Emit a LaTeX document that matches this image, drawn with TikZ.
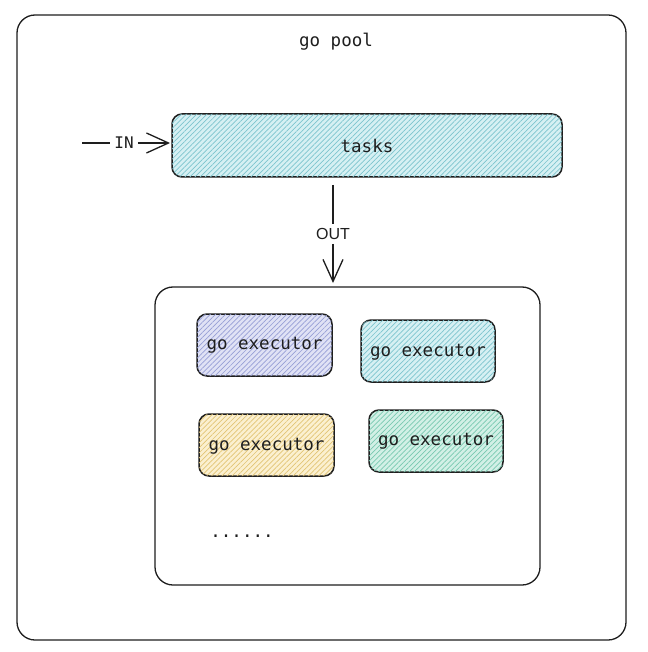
\documentclass[tikz,border=0pt]{standalone}
\usepackage{fontspec}
\setmonofont{DejaVu Sans Mono}
\setsansfont{Liberation Sans}
\usetikzlibrary{patterns.meta,arrows.meta}
\definecolor{ink}{HTML}{1E1E1E}
\definecolor{cyanf}{HTML}{D6F0F3}
\definecolor{cyanh}{HTML}{7CC4CE}
\definecolor{bluef}{HTML}{E0E2F5}
\definecolor{blueh}{HTML}{979FD6}
\definecolor{yelf}{HTML}{FBF0D0}
\definecolor{yelh}{HTML}{E2C474}
\definecolor{tealf}{HTML}{D2F0E6}
\definecolor{tealh}{HTML}{78C9B0}
\tikzset{
  frame/.style={draw=ink, line width=1.3pt, rounded corners=18pt},
  hatchbox/.style 2 args={draw=ink, line width=1.5pt, rounded corners=10pt, fill=#1,
    postaction={pattern={Lines[angle=45,distance=3.6pt,line width=0.7pt]}, pattern color=#2}},
  lbl/.style={font=\ttfamily\fontsize{17.5}{20}\selectfont, text=ink},
  arr/.style={draw=ink, line width=1.3pt, -{Straight Barb[length=22pt,width=20pt,line width=1.3pt]}},
}
\begin{document}
\begin{tikzpicture}[x=1pt,y=-1pt]
\useasboundingbox[fill=white] (0,0) rectangle (647,652);
% outer pool
\draw[frame] (17,15) rectangle (626,640);
\node[lbl] (title) at (336,42) {go pool};
% tasks
\path[hatchbox={cyanf}{cyanh}] (172,114) rectangle (562,177);
\node[lbl] (tasks) at (367,146) {tasks};
\coordinate (tasksw) at (170,143);
% IN arrow
\coordinate (instart) at (82,143);
\node[font=\ttfamily\fontsize{16}{18}\selectfont, text=ink, inner sep=4pt] (inlbl) at (124,143) {IN};
\draw[ink, line width=1.3pt] (instart) -- (inlbl.west);
\draw[arr] (inlbl.east) -- (tasksw);
% OUT arrow
\coordinate (outstart) at (333,185);
\coordinate (outend) at (333,283);
\node[font=\sffamily\fontsize{16}{18}\selectfont, text=ink, inner sep=4pt] (outlbl) at (333,234) {OUT};
\draw[ink, line width=1.3pt] (outstart) -- (outlbl.north);
\draw[arr] (outlbl.south) -- (outend);
% inner box
\draw[frame] (155,287) rectangle (540,585);
% executors
\path[hatchbox={bluef}{blueh}] (197,314) rectangle (332,376);
\node[lbl] (e1) at (264.5,345) {go executor};
\path[hatchbox={cyanf}{cyanh}] (361,320) rectangle (495,382);
\node[lbl] (e2) at (428,352) {go executor};
\path[hatchbox={yelf}{yelh}] (199,414) rectangle (334,476);
\node[lbl] (e3) at (266.5,446) {go executor};
\path[hatchbox={tealf}{tealh}] (369,410) rectangle (503,472);
\node[lbl] (e4) at (436,441) {go executor};
% dots
\node[lbl] (dots) at (242,536) {......};
\end{tikzpicture}
\end{document}
